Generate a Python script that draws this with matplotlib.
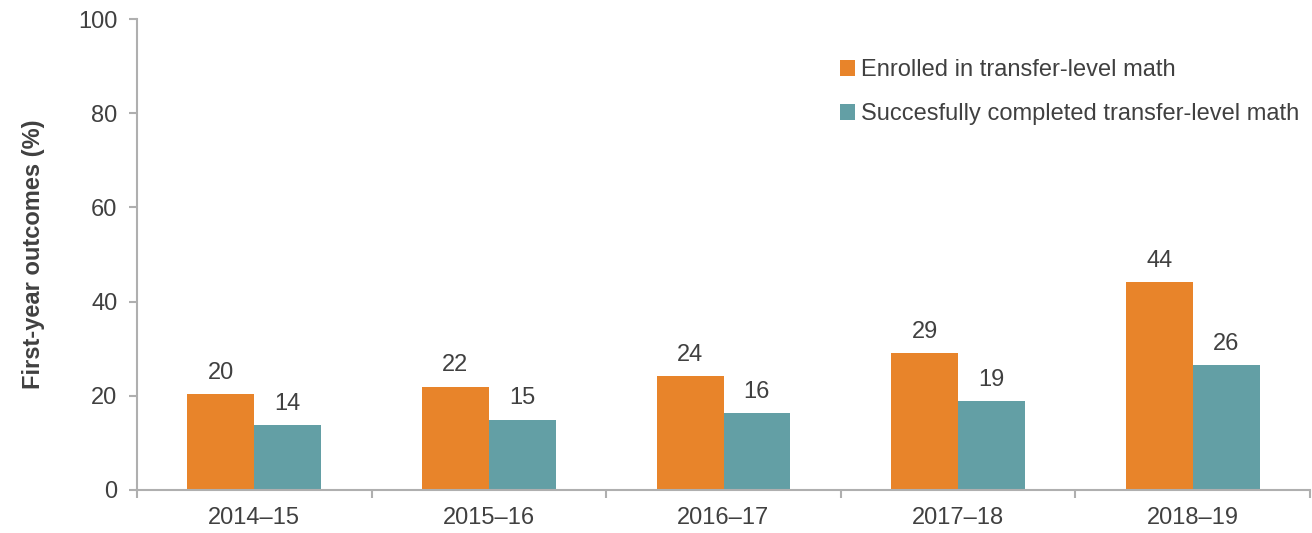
import matplotlib
matplotlib.use("Agg")
import matplotlib.pyplot as plt
import numpy as np

plt.rcParams['font.family'] = ['Liberation Sans', 'DejaVu Sans']

years = ["2014–15", "2015–16", "2016–17", "2017–18", "2018–19"]
enrolled = [20.3, 21.9, 24.2, 29.1, 44.1]
completed = [13.8, 14.9, 16.3, 18.9, 26.5]
enrolled_labels = ["20", "22", "24", "29", "44"]
completed_labels = ["14", "15", "16", "19", "26"]
series_names = ["Enrolled in transfer-level math", "Succesfully completed transfer-level math"]
yticks = [0, 20, 40, 60, 80, 100]

c_orange = "#E8842A"
c_teal = "#639FA5"
txt = "#404040"
grey = "#AFAFAF"
fs = 17

fig = plt.figure(figsize=(13.12, 5.33), dpi=100)
ax = fig.add_axes([137/1312, 43/533, 1173/1312, 471/533])

x = np.arange(len(years))
w = 0.285
b1 = ax.bar(x - w/2, enrolled, w, color=c_orange, label=series_names[0])
b2 = ax.bar(x + w/2, completed, w, color=c_teal, label=series_names[1])

for rect, lab in zip(b1, enrolled_labels):
    ax.annotate(lab, (rect.get_x() + rect.get_width()/2, rect.get_height()),
                xytext=(0, 7.5), textcoords="offset points", ha="center", va="bottom",
                fontsize=fs, color=txt)
for rect, lab in zip(b2, completed_labels):
    ax.annotate(lab, (rect.get_x() + rect.get_width()/2, rect.get_height()),
                xytext=(0, 7.5), textcoords="offset points", ha="center", va="bottom",
                fontsize=fs, color=txt)

ax.set_xlim(-0.5, len(years) - 0.5)
ax.set_ylim(0, 100)
ax.set_yticks(yticks)
ax.set_xticks(x)
ax.set_xticklabels(years)
ax.set_xticks(np.arange(len(years) + 1) - 0.5, minor=True)
ax.tick_params(axis="x", which="major", length=0, labelsize=fs, labelcolor=txt, pad=12)
ax.tick_params(axis="x", which="minor", length=6, color=grey, width=1.5, direction="out")
ax.tick_params(axis="y", length=6, color=grey, width=1.5, labelsize=fs, labelcolor=txt, pad=8)

for s in ["top", "right"]:
    ax.spines[s].set_visible(False)
for s in ["left", "bottom"]:
    ax.spines[s].set_color(grey)
    ax.spines[s].set_linewidth(1.5)

ax.set_ylabel("First-year outcomes (%)", fontsize=fs, fontweight="bold", color=txt, labelpad=24)

leg = ax.legend(loc="upper left", bbox_to_anchor=(0.591, 0.935), frameon=False,
                fontsize=fs, handlelength=0.65, handleheight=0.65, handletextpad=0.25,
                labelspacing=0.95, borderaxespad=0)
for t in leg.get_texts():
    t.set_color(txt)

fig.savefig("out.png", dpi=100)
